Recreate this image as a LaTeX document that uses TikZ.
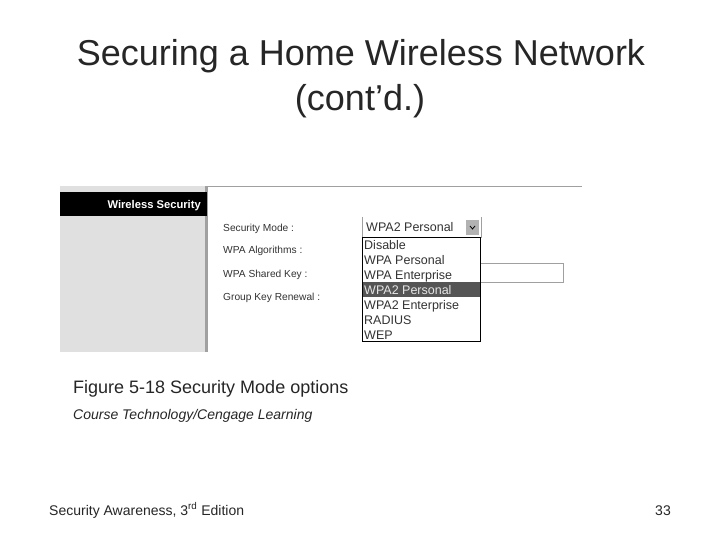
\documentclass[tikz,border=0pt]{standalone}
\usepackage{fontspec}
\setmainfont{Liberation Sans}
\definecolor{panelgray}{HTML}{E0E0E0}
\definecolor{edgegray}{HTML}{A0A0A0}
\definecolor{selgray}{HTML}{555555}
\tikzset{
	formlabel/.style={anchor=base west,inner sep=0pt,font=\fontsize{10.2}{10.2}\selectfont,text=black!80},
	optionlabel/.style={anchor=base west,inner sep=0pt,font=\fontsize{12.5}{12.5}\selectfont,text=black!80},
	slidetext/.style={anchor=base west,inner sep=0pt,text=black!85}
}
\begin{document}
\begin{tikzpicture}[x=1pt,y=-1pt]
			\useasboundingbox (0,0) rectangle (720,540);
			\fill[white] (0,0) rectangle (720,540);
			\node[text=black!85] (title) at (361,56) {\fontsize{36}{36}\selectfont Securing a Home Wireless Network};
			\node[text=black!85] (cont) at (360,101) {\fontsize{36}{36}\selectfont (cont’d.)};
			\fill[panelgray] (60,186) rectangle (207,352);
			\fill[edgegray] (205,186) rectangle (208,352);
			\fill[black] (60,192) rectangle (207,216);
			\draw[edgegray] (207,186.5)--(582,186.5);
			\node[anchor=base east,inner sep=0pt,text=white,font=\fontsize{11.2}{11.2}\selectfont\bfseries] (head) at (201,208) {Wireless Security};
			\node[formlabel] (mode) at (223,231) {Security Mode :};
			\node[formlabel] (algo) at (223,254) {WPA Algorithms :};
			\node[formlabel] (key) at (223,277) {WPA Shared Key :};
			\node[formlabel] (renew) at (223,300) {Group Key Renewal :};
			\draw[edgegray] (362,217)--(362,237)--(481,237)--(481,217);
			\node[optionlabel] (current) at (366,231.5) {WPA2 Personal};
			\fill[black!30] (466,220) rectangle (479,235);
			\draw[thick] (470,226)--(472.5,229)--(475,226);
			\draw[edgegray] (481,263.5)--(563,263.5)--(563,282.5)--(481,282.5);
			\draw[fill=white] (362.5,237.5) rectangle (480.5,341.5);
			\fill[selgray] (363,282) rectangle (480,297);
			\node[optionlabel] (disable) at (364,249.5) {Disable};
			\node[optionlabel] (wpap) at (364,264.5) {WPA Personal};
			\node[optionlabel] (wpae) at (364,279.5) {WPA Enterprise};
			\node[optionlabel,text=black!10] (wpatwop) at (364,294) {WPA2 Personal};
			\node[optionlabel] (wpatwoe) at (364,309) {WPA2 Enterprise};
			\node[optionlabel] (radius) at (364,324) {RADIUS};
			\node[optionlabel] (wep) at (364,339) {WEP};
			\node[slidetext] (caption) at (73,393) {\fontsize{18}{18}\selectfont Figure 5-18 Security Mode options};
			\node[slidetext] (credit) at (73,419) {\fontsize{14}{14}\selectfont\itshape Course Technology/Cengage Learning};
			\node[slidetext] (footer) at (49,515) {\fontsize{14}{14}\selectfont Security Awareness, 3\textsuperscript{rd} Edition};
			\node[slidetext,anchor=base east] (page) at (671,515) {\fontsize{14}{14}\selectfont 33};
		\end{tikzpicture}
\end{document}
